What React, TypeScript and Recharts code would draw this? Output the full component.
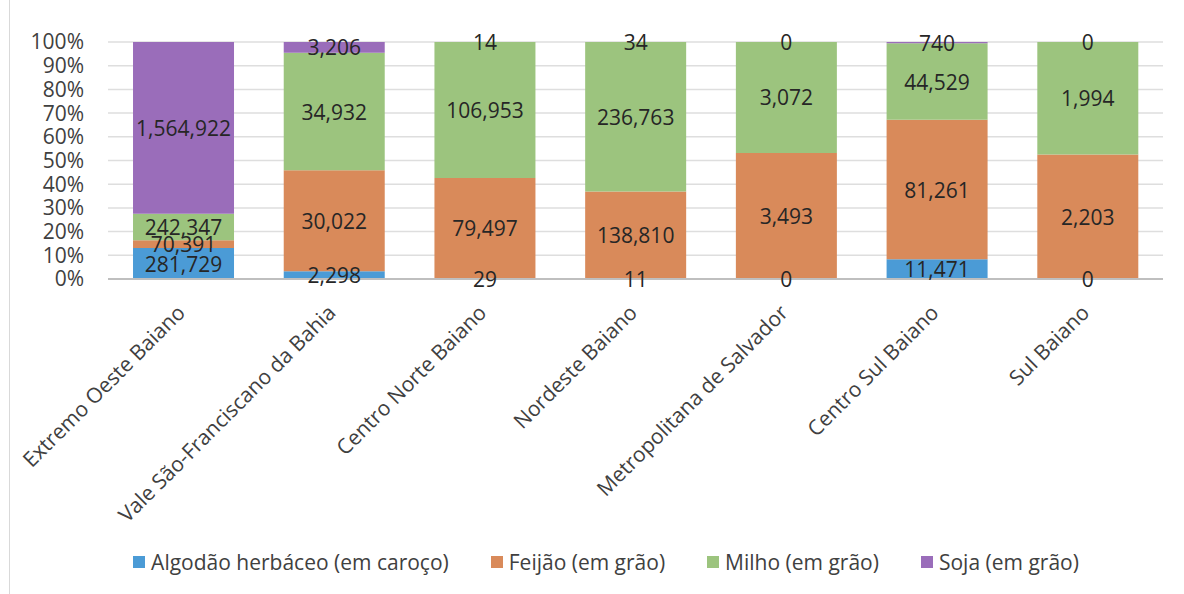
import React from 'react';
import { BarChart, Bar, XAxis, YAxis, CartesianGrid, Legend, LabelList } from 'recharts';

const regions = [
  'Extremo Oeste Baiano',
  'Vale São-Franciscano da Bahia',
  'Centro Norte Baiano',
  'Nordeste Baiano',
  'Metropolitana de Salvador',
  'Centro Sul Baiano',
  'Sul Baiano',
];

const algodao = [281729, 2298, 29, 11, 0, 11471, 0];
const feijao = [70391, 30022, 79497, 138810, 3493, 81261, 2203];
const milho = [242347, 34932, 106953, 236763, 3072, 44529, 1994];
const soja = [1564922, 3206, 14, 34, 0, 740, 0];

const percentTicks = [0, 0.1, 0.2, 0.3, 0.4, 0.5, 0.6, 0.7, 0.8, 0.9, 1];

const series = [
  { key: 'algodao', name: 'Algodão herbáceo (em caroço)', color: '#4b9bd6' },
  { key: 'feijao', name: 'Feijão (em grão)', color: '#d98a5a' },
  { key: 'milho', name: 'Milho (em grão)', color: '#9cc47e' },
  { key: 'soja', name: 'Soja (em grão)', color: '#9a6dba' },
];

const data = regions.map((region, i) => ({
  region,
  algodao: algodao[i],
  feijao: feijao[i],
  milho: milho[i],
  soja: soja[i],
}));

const FONT = '"Open Sans", sans-serif';
const FS = 21;

const AngledTick: React.FC<any> = ({ x, y, payload }) => (
  <text
    transform={`translate(${x + 3},${y + 27}) rotate(-45)`}
    textAnchor="end"
    fill="#404040"
    fontSize={FS}
    fontFamily={FONT}
  >
    {payload.value}
  </text>
);

const LegendBox: React.FC = () => (
  <div
    style={{
      height: 40,
      display: 'flex',
      justifyContent: 'center',
      alignItems: 'center',
      paddingLeft: 28,
      fontFamily: FONT,
      fontSize: FS,
      color: '#404040',
    }}
  >
    {series.map((s) => (
      <div key={s.key} style={{ display: 'flex', alignItems: 'center', margin: '0 21px' }}>
        <span style={{ width: 12, height: 12, background: s.color, marginRight: 6, display: 'inline-block' }} />
        <span>{s.name}</span>
      </div>
    ))}
  </div>
);

// custom label so that zero-valued segments still show their "0"
const SegmentLabel: React.FC<any> = ({ x, y, width, height, value }) => {
  if (x == null || y == null) return null;
  return (
    <text
      x={Number(x) + Number(width) / 2}
      y={Number(y) + Number(height) / 2}
      textAnchor="middle"
      dominantBaseline="central"
      fill="#262626"
      fontSize={FS}
      fontFamily={FONT}
    >
      {Number(value).toLocaleString('en-US')}
    </text>
  );
};

export default function App() {
  return (
    <div style={{ position: 'absolute', left: 0, top: 0, width: 1184, height: 594, background: '#fff' }}>
      <div style={{ position: 'absolute', left: 9, top: 0, width: 1, height: 594, background: '#d9d9d9' }} />
      <BarChart
        width={1184}
        height={594}
        data={data}
        stackOffset="expand"
        barCategoryGap="16.6%"
        margin={{ top: 42, right: 21, left: 0, bottom: 12 }}
      >
        <CartesianGrid vertical={false} stroke="#dedede" strokeWidth={1.5} />
        <XAxis
          dataKey="region"
          interval={0}
          height={263}
          tickLine={false}
          axisLine={{ stroke: '#bfbfbf', strokeWidth: 2 }}
          tick={<AngledTick />}
        />
        <YAxis
          width={108}
          ticks={percentTicks}
          domain={[0, 1]}
          interval={0}
          tickFormatter={(v: number) => `${Math.round(v * 100)}%`}
          axisLine={false}
          tickLine={false}
          tickMargin={18}
          tick={{ fill: '#404040', fontSize: FS, fontFamily: FONT }}
        />
        <Legend verticalAlign="bottom" content={<LegendBox />} wrapperStyle={{ left: 0, width: 1184 }} />
        {series.map((s) => (
          <Bar
            key={s.key}
            dataKey={s.key}
            name={s.name}
            stackId="a"
            fill={s.color}
            minPointSize={0.01}
            isAnimationActive={false}
          >
            <LabelList dataKey={s.key} position="center" content={<SegmentLabel />} />
          </Bar>
        ))}
      </BarChart>
    </div>
  );
}
